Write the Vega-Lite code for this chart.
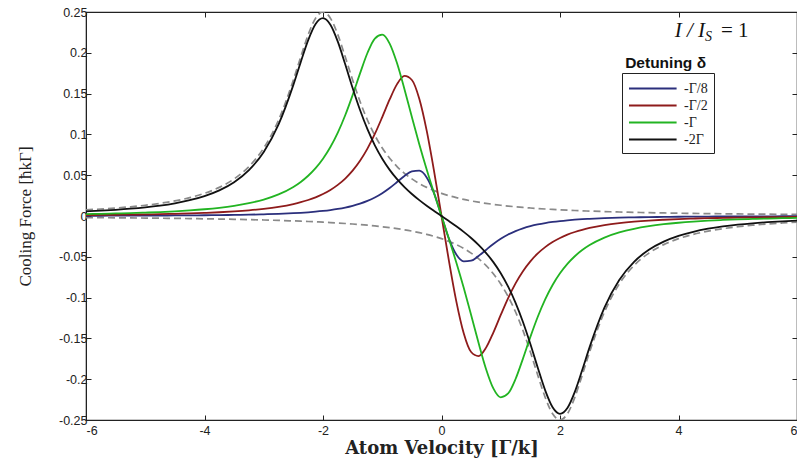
{
  "$schema": "https://vega.github.io/schema/vega-lite/v6.json",
  "width": 711,
  "height": 408,
  "autosize": {"type": "none"},
  "padding": {"left": 86, "top": 12, "right": 0, "bottom": 48},
  "background": "white",
  "config": {
    "view": {"stroke": "#222", "strokeWidth": 1.2},
    "axis": {
      "grid": false,
      "domainColor": "#222",
      "tickColor": "#222",
      "tickSize": -5,
      "labelFont": "Liberation Sans",
      "labelFontSize": 12.5,
      "labelColor": "#222",
      "titleFontWeight": "normal",
      "titleColor": "#222"
    }
  },
  "datasets": {
    "curves": [
      {"v": -6, "b": 0.00028, "r": 0.00115, "g": 0.00237, "k": 0.00564, "p": 0.00758, "n": -0.00194},
      {"v": -5.75, "b": 0.00032, "r": 0.00129, "g": 0.00271, "k": 0.00652, "p": 0.00858, "n": -0.00206},
      {"v": -5.5, "b": 0.00036, "r": 0.00147, "g": 0.0031, "k": 0.0076, "p": 0.0098, "n": -0.0022},
      {"v": -5.25, "b": 0.00042, "r": 0.0017, "g": 0.00357, "k": 0.00894, "p": 0.0113, "n": -0.00236},
      {"v": -5, "b": 0.00048, "r": 0.00195, "g": 0.00415, "k": 0.01063, "p": 0.01316, "n": -0.00253},
      {"v": -4.75, "b": 0.00056, "r": 0.00228, "g": 0.00486, "k": 0.01279, "p": 0.0155, "n": -0.00271},
      {"v": -4.5, "b": 0.00065, "r": 0.00268, "g": 0.00573, "k": 0.0156, "p": 0.01852, "n": -0.00292},
      {"v": -4.25, "b": 0.00078, "r": 0.00316, "g": 0.00685, "k": 0.01931, "p": 0.02247, "n": -0.00316},
      {"v": -4, "b": 0.00092, "r": 0.00378, "g": 0.00826, "k": 0.02435, "p": 0.02778, "n": -0.00343},
      {"v": -3.75, "b": 0.0011, "r": 0.00457, "g": 0.01008, "k": 0.03137, "p": 0.03509, "n": -0.00372},
      {"v": -3.5, "b": 0.00135, "r": 0.00558, "g": 0.0125, "k": 0.04138, "p": 0.04545, "n": -0.00407},
      {"v": -3.25, "b": 0.00167, "r": 0.00692, "g": 0.01574, "k": 0.05616, "p": 0.06061, "n": -0.00445},
      {"v": -3, "b": 0.00208, "r": 0.00872, "g": 0.0202, "k": 0.07843, "p": 0.08333, "n": -0.0049},
      {"v": -2.75, "b": 0.00265, "r": 0.01117, "g": 0.02651, "k": 0.11223, "p": 0.11765, "n": -0.00542},
      {"v": -2.5, "b": 0.00345, "r": 0.01462, "g": 0.03565, "k": 0.16065, "p": 0.16667, "n": -0.00602},
      {"v": -2.375, "b": 0.00395, "r": 0.01687, "g": 0.04178, "k": 0.18876, "p": 0.19512, "n": -0.00636},
      {"v": -2.25, "b": 0.00456, "r": 0.01959, "g": 0.04931, "k": 0.21549, "p": 0.22222, "n": -0.00673},
      {"v": -2.125, "b": 0.00531, "r": 0.02289, "g": 0.05862, "k": 0.23528, "p": 0.24242, "n": -0.00714},
      {"v": -2, "b": 0.00621, "r": 0.02693, "g": 0.07017, "k": 0.24242, "p": 0.25, "n": -0.00758},
      {"v": -1.875, "b": 0.00731, "r": 0.03193, "g": 0.08451, "k": 0.23436, "p": 0.24242, "n": -0.00806},
      {"v": -1.75, "b": 0.00867, "r": 0.03814, "g": 0.10215, "k": 0.21364, "p": 0.22222, "n": -0.00858},
      {"v": -1.625, "b": 0.01036, "r": 0.04588, "g": 0.12344, "k": 0.18596, "p": 0.19512, "n": -0.00916},
      {"v": -1.5, "b": 0.01249, "r": 0.05555, "g": 0.14815, "k": 0.15687, "p": 0.16667, "n": -0.0098},
      {"v": -1.375, "b": 0.01516, "r": 0.06764, "g": 0.17476, "k": 0.12984, "p": 0.14035, "n": -0.01051},
      {"v": -1.25, "b": 0.01851, "r": 0.08256, "g": 0.19975, "k": 0.10635, "p": 0.11765, "n": -0.0113},
      {"v": -1.125, "b": 0.02272, "r": 0.10055, "g": 0.2175, "k": 0.08659, "p": 0.09877, "n": -0.01218},
      {"v": -1, "b": 0.02797, "r": 0.12122, "g": 0.22222, "k": 0.07017, "p": 0.08333, "n": -0.01316},
      {"v": -0.875, "b": 0.03432, "r": 0.14283, "g": 0.21129, "k": 0.05654, "p": 0.0708, "n": -0.01426},
      {"v": -0.75, "b": 0.04158, "r": 0.16161, "g": 0.18713, "k": 0.04511, "p": 0.06061, "n": -0.0155},
      {"v": -0.625, "b": 0.04902, "r": 0.17162, "g": 0.15532, "k": 0.03538, "p": 0.05229, "n": -0.01691},
      {"v": -0.5, "b": 0.05477, "r": 0.16667, "g": 0.12122, "k": 0.02693, "p": 0.04545, "n": -0.01852},
      {"v": -0.375, "b": 0.05555, "r": 0.14365, "g": 0.08806, "k": 0.01944, "p": 0.0398, "n": -0.02036},
      {"v": -0.25, "b": 0.0473, "r": 0.10457, "g": 0.05704, "k": 0.01262, "p": 0.03509, "n": -0.02247},
      {"v": -0.125, "b": 0.02778, "r": 0.05477, "g": 0.02797, "k": 0.00621, "p": 0.03113, "n": -0.02492},
      {"v": 0, "b": 0, "r": 0, "g": 0, "k": 0, "p": 0.02778, "n": -0.02778},
      {"v": 0.125, "b": -0.02778, "r": -0.05477, "g": -0.02797, "k": -0.00621, "p": 0.02492, "n": -0.03113},
      {"v": 0.25, "b": -0.0473, "r": -0.10457, "g": -0.05704, "k": -0.01262, "p": 0.02247, "n": -0.03509},
      {"v": 0.375, "b": -0.05555, "r": -0.14365, "g": -0.08806, "k": -0.01944, "p": 0.02036, "n": -0.0398},
      {"v": 0.5, "b": -0.05477, "r": -0.16667, "g": -0.12122, "k": -0.02693, "p": 0.01852, "n": -0.04545},
      {"v": 0.625, "b": -0.04902, "r": -0.17162, "g": -0.15532, "k": -0.03538, "p": 0.01691, "n": -0.05229},
      {"v": 0.75, "b": -0.04158, "r": -0.16161, "g": -0.18713, "k": -0.04511, "p": 0.0155, "n": -0.06061},
      {"v": 0.875, "b": -0.03432, "r": -0.14283, "g": -0.21129, "k": -0.05654, "p": 0.01426, "n": -0.0708},
      {"v": 1, "b": -0.02797, "r": -0.12122, "g": -0.22222, "k": -0.07017, "p": 0.01316, "n": -0.08333},
      {"v": 1.125, "b": -0.02272, "r": -0.10055, "g": -0.2175, "k": -0.08659, "p": 0.01218, "n": -0.09877},
      {"v": 1.25, "b": -0.01851, "r": -0.08256, "g": -0.19975, "k": -0.10635, "p": 0.0113, "n": -0.11765},
      {"v": 1.375, "b": -0.01516, "r": -0.06764, "g": -0.17476, "k": -0.12984, "p": 0.01051, "n": -0.14035},
      {"v": 1.5, "b": -0.01249, "r": -0.05555, "g": -0.14815, "k": -0.15687, "p": 0.0098, "n": -0.16667},
      {"v": 1.625, "b": -0.01036, "r": -0.04588, "g": -0.12344, "k": -0.18596, "p": 0.00916, "n": -0.19512},
      {"v": 1.75, "b": -0.00867, "r": -0.03814, "g": -0.10215, "k": -0.21364, "p": 0.00858, "n": -0.22222},
      {"v": 1.875, "b": -0.00731, "r": -0.03193, "g": -0.08451, "k": -0.23436, "p": 0.00806, "n": -0.24242},
      {"v": 2, "b": -0.00621, "r": -0.02693, "g": -0.07017, "k": -0.24242, "p": 0.00758, "n": -0.25},
      {"v": 2.125, "b": -0.00531, "r": -0.02289, "g": -0.05862, "k": -0.23528, "p": 0.00714, "n": -0.24242},
      {"v": 2.25, "b": -0.00456, "r": -0.01959, "g": -0.04931, "k": -0.21549, "p": 0.00673, "n": -0.22222},
      {"v": 2.375, "b": -0.00395, "r": -0.01687, "g": -0.04178, "k": -0.18876, "p": 0.00636, "n": -0.19512},
      {"v": 2.5, "b": -0.00345, "r": -0.01462, "g": -0.03565, "k": -0.16065, "p": 0.00602, "n": -0.16667},
      {"v": 2.75, "b": -0.00265, "r": -0.01117, "g": -0.02651, "k": -0.11223, "p": 0.00542, "n": -0.11765},
      {"v": 3, "b": -0.00208, "r": -0.00872, "g": -0.0202, "k": -0.07843, "p": 0.0049, "n": -0.08333},
      {"v": 3.25, "b": -0.00167, "r": -0.00692, "g": -0.01574, "k": -0.05616, "p": 0.00445, "n": -0.06061},
      {"v": 3.5, "b": -0.00135, "r": -0.00558, "g": -0.0125, "k": -0.04138, "p": 0.00407, "n": -0.04545},
      {"v": 3.75, "b": -0.0011, "r": -0.00457, "g": -0.01008, "k": -0.03137, "p": 0.00372, "n": -0.03509},
      {"v": 4, "b": -0.00092, "r": -0.00378, "g": -0.00826, "k": -0.02435, "p": 0.00343, "n": -0.02778},
      {"v": 4.25, "b": -0.00078, "r": -0.00316, "g": -0.00685, "k": -0.01931, "p": 0.00316, "n": -0.02247},
      {"v": 4.5, "b": -0.00065, "r": -0.00268, "g": -0.00573, "k": -0.0156, "p": 0.00292, "n": -0.01852},
      {"v": 4.75, "b": -0.00056, "r": -0.00228, "g": -0.00486, "k": -0.01279, "p": 0.00271, "n": -0.0155},
      {"v": 5, "b": -0.00048, "r": -0.00195, "g": -0.00415, "k": -0.01063, "p": 0.00253, "n": -0.01316},
      {"v": 5.25, "b": -0.00042, "r": -0.0017, "g": -0.00357, "k": -0.00894, "p": 0.00236, "n": -0.0113},
      {"v": 5.5, "b": -0.00036, "r": -0.00147, "g": -0.0031, "k": -0.0076, "p": 0.0022, "n": -0.0098},
      {"v": 5.75, "b": -0.00032, "r": -0.00129, "g": -0.00271, "k": -0.00652, "p": 0.00206, "n": -0.00858},
      {"v": 6, "b": -0.00028, "r": -0.00115, "g": -0.00237, "k": -0.00564, "p": 0.00194, "n": -0.00758}
    ],
    "notes": [
      {"x": 4.447, "y": 0.2194, "part": "main"},
      {"x": 3.1, "y": 0.1875, "part": "legend"}
    ]
  },
  "layer": [
    {
      "data": {"name": "curves"},
      "transform": [{"fold": ["p", "n"], "as": ["part", "f"]}],
      "mark": {"type": "line", "stroke": "#8a8a8a", "strokeWidth": 1.7, "strokeDash": [7, 4], "interpolate": "monotone", "clip": true},
      "encoding": {
        "x": {"field": "v", "type": "quantitative", "scale": {"domain": [-6, 6], "nice": false, "zero": false},
          "axis": {"values": [-6, -4, -2, 0, 2, 4, 6], "labelExpr": "toString(datum.value)", "title": "Atom Velocity [Γ/k]", "titleFont": "DejaVu Serif", "titleFontSize": 18, "titleFontWeight": 600, "labelPadding": 9, "titlePadding": 3}},
        "y": {"field": "f", "type": "quantitative", "scale": {"domain": [-0.25, 0.25], "nice": false, "zero": false},
          "axis": {"values": [-0.25, -0.2, -0.15, -0.1, -0.05, 0, 0.05, 0.1, 0.15, 0.2, 0.25], "labelExpr": "toString(datum.value)", "title": "Cooling Force [ħkΓ]", "titleFont": "Liberation Serif", "titleFontSize": 17, "labelPadding": 4, "titlePadding": 24}},
        "detail": {"field": "part"}
      }
    },
    {
      "data": {"name": "curves"},
      "transform": [
        {"fold": ["b", "r", "g", "k"], "as": ["key", "f"]},
        {"calculate": "datum.key == 'b' ? '-Γ/8' : datum.key == 'r' ? '-Γ/2' : datum.key == 'g' ? '-Γ' : '-2Γ'", "as": "Detuning"}
      ],
      "mark": {"type": "line", "strokeWidth": 1.8, "interpolate": "monotone", "clip": true},
      "encoding": {
        "x": {"field": "v", "type": "quantitative", "axis": {"orient": "top", "values": [-6, -4, -2, 0, 2, 4, 6], "labels": false, "title": null, "domain": false}},
        "y": {"field": "f", "type": "quantitative", "axis": {"orient": "right", "values": [-0.25, -0.2, -0.15, -0.1, -0.05, 0, 0.05, 0.1, 0.15, 0.2, 0.25], "labels": false, "title": null, "domain": false}},
        "color": {
          "field": "Detuning", "type": "nominal",
          "scale": {"domain": ["-Γ/8", "-Γ/2", "-Γ", "-2Γ"], "range": ["#2b2f7c", "#8e1b1b", "#22b422", "#111111"]},
          "legend": {
            "title": null, "orient": "none", "legendX": 536, "legendY": 61,
            "symbolType": "M-1,0H4.6", "symbolStrokeWidth": 1.8, "symbolSize": 289, "symbolOffset": 0,
            "labelOffset": 37,
            "labelFont": "Liberation Serif", "labelFontSize": 14, "labelColor": "#222",
            "strokeColor": "#222", "padding": 6, "rowPadding": 0, "fillColor": "white"
          }
        }
      }
    },
    {
      "data": {"name": "notes"},
      "transform": [{"filter": "datum.part == 'main'"}],
      "encoding": {"x": {"field": "x", "type": "quantitative", "axis": null}, "y": {"field": "y", "type": "quantitative", "axis": null}},
      "layer": [
        {"mark": {"type": "text", "text": "I / I", "font": "Liberation Serif", "fontStyle": "italic", "fontSize": 21, "align": "right", "baseline": "alphabetic", "dx": 0, "color": "#111"}},
        {"mark": {"type": "text", "text": "S", "font": "Liberation Serif", "fontStyle": "italic", "fontSize": 14, "align": "left", "baseline": "alphabetic", "dx": 0, "dy": 4, "color": "#111"}},
        {"mark": {"type": "text", "text": "= 1", "font": "Liberation Serif", "fontSize": 21, "align": "left", "baseline": "alphabetic", "dx": 16, "color": "#111"}}
      ]
    },
    {
      "data": {"name": "notes"},
      "transform": [{"filter": "datum.part == 'legend'"}],
      "mark": {"type": "text", "text": "Detuning δ", "font": "Liberation Sans", "fontWeight": "bold", "fontSize": 15.5, "align": "left", "baseline": "middle", "color": "#111"},
      "encoding": {"x": {"field": "x", "type": "quantitative", "axis": null}, "y": {"field": "y", "type": "quantitative", "axis": null}}
    }
  ],
  "resolve": {"axis": {"x": "independent", "y": "independent"}}
}
